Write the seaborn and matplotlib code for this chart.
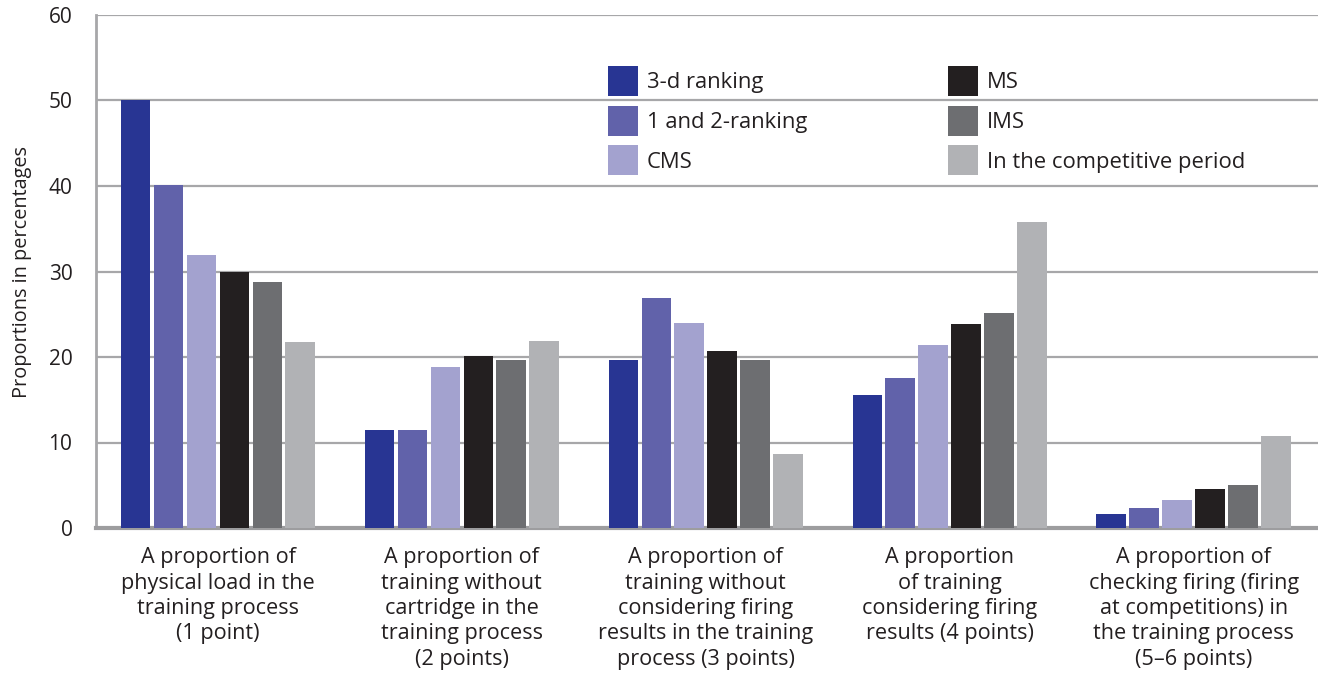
import matplotlib
matplotlib.use("Agg")
import matplotlib.pyplot as plt
import seaborn as sns
import pandas as pd

# Training components (x categories)
categories = [
    "A proportion of\nphysical load in the\ntraining process\n(1 point)",
    "A proportion of\ntraining without\ncartridge in the\ntraining process\n(2 points)",
    "A proportion of\ntraining without\nconsidering firing\nresults in the training\nprocess (3 points)",
    "A proportion\nof training\nconsidering firing\nresults (4 points)",
    "A proportion of\nchecking firing (firing\nat competitions) in\nthe training process\n(5\u20136 points)",
]

# Athlete groups
groups = ["3-d ranking", "1 and 2-ranking", "CMS", "MS", "IMS", "In the competitive period"]

# Proportions (%) per group, one value per category
third_ranking = [50.1, 11.5, 19.6, 15.6, 1.6]
first_second_ranking = [40.1, 11.5, 26.9, 17.5, 2.3]
cms = [31.9, 18.8, 24.0, 21.4, 3.3]
ms = [30.0, 20.1, 20.7, 23.9, 4.6]
ims = [28.8, 19.6, 19.6, 25.2, 5.0]
competitive_period = [21.8, 21.9, 8.7, 35.8, 10.8]

yticks = [0, 10, 20, 30, 40, 50, 60]

series = [third_ranking, first_second_ranking, cms, ms, ims, competitive_period]
rows = []
for g, vals in zip(groups, series):
    for c, v in zip(categories, vals):
        rows.append({"category": c, "group": g, "value": v})
df = pd.DataFrame(rows)

palette = ["#283593", "#6162aa", "#a3a2cf", "#231f20", "#6d6e71", "#b1b2b5"]

sns.set_theme(style="white")
plt.rcParams["font.family"] = ["Open Sans", "DejaVu Sans"]
plt.rcParams["text.color"] = "#231f20"

fig = plt.figure(figsize=(13.18, 6.77), dpi=100)
ax = fig.add_axes([96 / 1318, 1 - 528 / 677, 1 - 96 / 1318, (528 - 15) / 677])

sns.barplot(
    data=df, x="category", y="value", hue="group",
    order=categories, hue_order=groups, palette=palette,
    width=0.81, gap=0.1, saturation=1, errorbar=None, ax=ax,
    linewidth=0, zorder=3,
)

ax.set_ylim(0, 60)
ax.set_xlim(-0.5, 4.51)
ax.set_yticks(yticks)
ax.set_yticklabels([str(t) for t in yticks], fontsize=15, color="#231f20")
ax.yaxis.grid(True, color="#a7a7a9", linewidth=1.6, zorder=0)
ax.set_axisbelow(True)
ax.tick_params(axis="both", length=0)
ax.tick_params(axis="y", pad=17)
ax.tick_params(axis="x", pad=14)
for lab in ax.get_xticklabels():
    lab.set_fontsize(15.6)
    lab.set_color("#231f20")
    lab.set_linespacing(1.27)
    lab.set_verticalalignment("top")

ax.set_xlabel("")
ax.set_ylabel("Proportions in percentages", fontsize=14.3, labelpad=12, color="#231f20")

for side in ["top", "right"]:
    ax.spines[side].set_visible(False)
ax.spines["left"].set_color("#a7a7a9")
ax.spines["left"].set_linewidth(2)
ax.spines["bottom"].set_color("#9d9d9f")
ax.spines["bottom"].set_linewidth(3)

handles, labels = ax.get_legend_handles_labels()
ax.legend(
    handles, labels, ncol=2, frameon=False,
    loc="upper left", bbox_to_anchor=(608 / 1318, 1 - 66 / 677),
    bbox_transform=fig.transFigure, borderpad=0, borderaxespad=0,
    fontsize=15.8, handlelength=1.37, handleheight=1.73,
    handletextpad=0.41, labelspacing=0.44, columnspacing=6.4,
)

fig.savefig("out.png", dpi=100)
